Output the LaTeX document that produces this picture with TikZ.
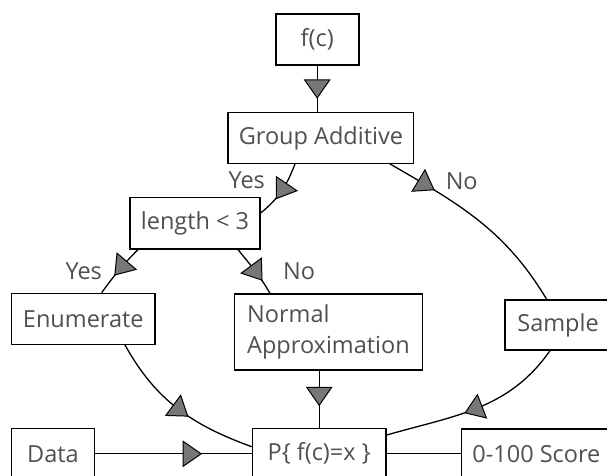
\documentclass[tikz,border=0pt]{standalone}
\usepackage{fontspec}
\setmainfont{Open Sans}
\usetikzlibrary{decorations.markings}
\definecolor{txt}{HTML}{505050}
\definecolor{trifill}{HTML}{777777}
\tikzset{
  box/.style={draw=black, line width=1.3pt, fill=white, text=txt, minimum height=51pt, inner sep=0pt, font=\fontsize{23.5}{31.7}\selectfont},
  conn/.style={line width=1.3pt, draw=black},
  tri/.style={postaction={decorate}, decoration={markings, mark=at position #1 with {\filldraw[fill=trifill, draw=black, line width=1pt, line join=miter] (9pt,0pt) -- (-9pt,12.5pt) -- (-9pt,-12.5pt) -- cycle;}}},
  lbl/.style={text=txt, inner sep=0pt, anchor=base, font=\fontsize{23.5}{28}\selectfont},
}
\begin{document}
\begin{tikzpicture}[x=1pt,y=1pt]
\useasboundingbox (0,0) rectangle (607,-475);
\node[box, line width=2.3pt, minimum width=83pt, minimum height=50.7pt] (fc) at (317.2,-39.3) {f(c)};
\node[box, minimum width=185.7pt, minimum height=50.6pt] (ga) at (320.9,-138) {Group Additive};
\node[box, minimum width=130pt, minimum height=51.3pt] (len) at (195,-223.3) {length < 3};
\node[box, minimum width=143.3pt] (enum) at (83.3,-318.8) {Enumerate};
\node[box, minimum height=76pt, align=left, text width=162pt, inner xsep=13pt] (na) at (328.2,-332) {Normal\\Approximation};
\node[box, anchor=west, inner xsep=12.4pt, minimum height=50pt] (sample) at (504.3,-325) {Sample};
\node[box, minimum width=133.7pt] (p) at (319.2,-453.8) {P\{ f(c)=x \}};
\node[box, minimum width=82.6pt] (data) at (53,-453.8) {Data};
\node[box, anchor=west, inner xsep=10.7pt] (score) at (461,-454.5) {0-100 Score};

\draw[conn, tri=0.5] (fc.south) -- (fc.south |- ga.north);
\draw[conn, tri=0.5] ([xshift=-25.9pt]ga.south) to[out=-111,in=39] ([yshift=10.3pt]len.east);
\draw[conn, tri=0.2] ([xshift=69.1pt]ga.south) to[out=-30,in=121] ([xshift=42.4pt]sample.north west);
\draw[conn, tri=0.45] ([xshift=-57pt]len.south) to[out=-135,in=54] ([xshift=18.4pt]enum.north);
\draw[conn, tri=0.55] ([xshift=43pt]len.south) to[out=-51,in=120] ([xshift=-58.2pt]na.north);
\draw[conn, tri=0.52] ([xshift=41.7pt]enum.south) to[out=-61,in=160] ([yshift=7.1pt]p.west);
\draw[conn, tri=0.45] (na.south -| p.north) -- (p.north);
\draw[conn, tri=0.52] ([xshift=45.7pt]sample.south west) to[out=-125,in=16] ([yshift=18.8pt]p.east);
\draw[conn, tri=0.62] (data.east) -- (p.west);
\draw[conn] (p.east) -- (p.east -| score.west);

\node[lbl] (yes1) at (246.7,-188.3) {Yes};
\node[lbl] (no1) at (461.7,-189.3) {No};
\node[lbl] (yes2) at (83.7,-279) {Yes};
\node[lbl] (no2) at (299,-279.3) {No};
\end{tikzpicture}
\end{document}
